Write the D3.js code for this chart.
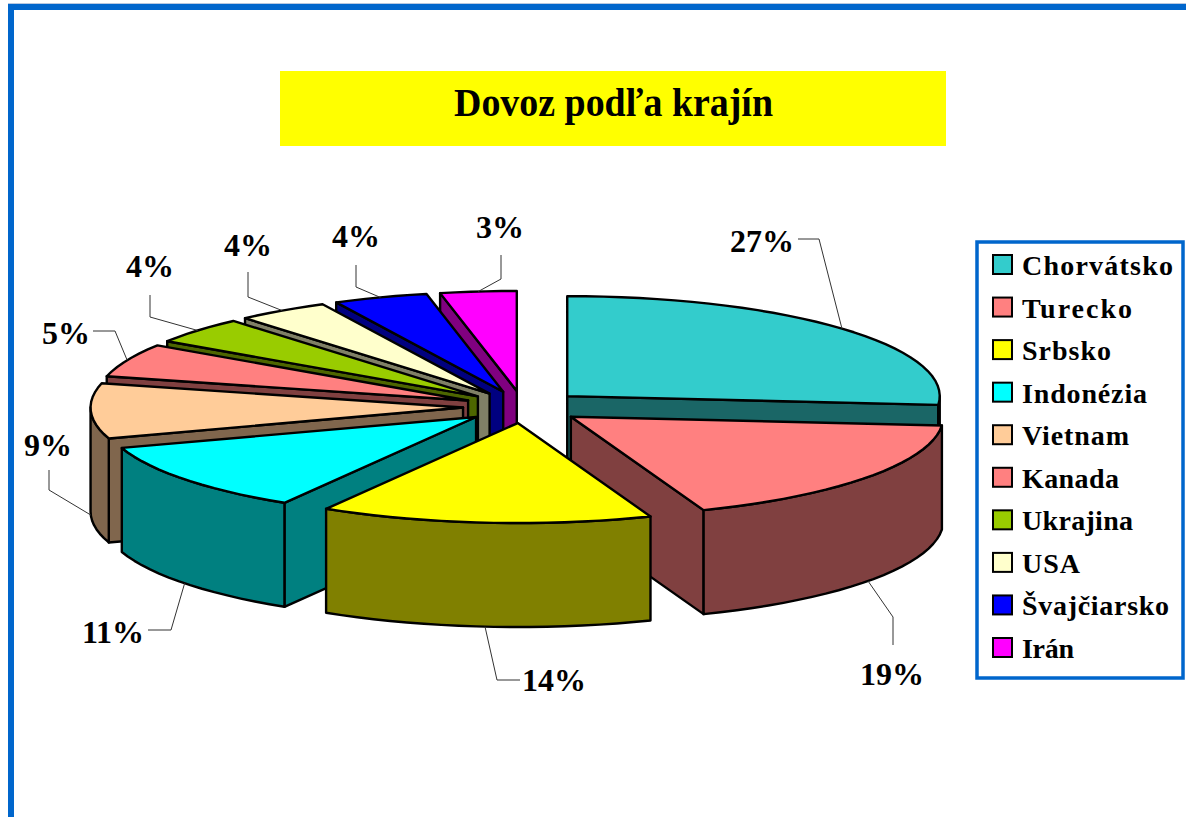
<!DOCTYPE html>
<html lang="sk">
<head>
    <meta charset="UTF-8">
    <title>Dovoz podľa krajín</title>
    <script src="https://cdnjs.cloudflare.com/ajax/libs/d3/7.8.5/d3.min.js"></script>
    <style>
        html, body { margin: 0; padding: 0; background: #fff; overflow: hidden; }
        svg { display: block; }
        text { font-family: "Liberation Serif", "Times New Roman", serif; font-weight: bold; fill: #000; }
    </style>
</head>
<body>
    <div id="chart"></div>
    <script>
        const titleText = 'Dovoz podľa krajín';
        const countries = ['Chorvátsko', 'Turecko', 'Srbsko', 'Indonézia', 'Vietnam', 'Kanada', 'Ukrajina', 'USA', 'Švajčiarsko', 'Irán'];
        // printed percentages
        const percentLabels = ['27%', '19%', '14%', '11%', '9%', '5%', '4%', '4%', '4%', '3%'];
        // wedge sizes as they appear in the picture (perspective squeezes some of them)
        const wedgeShares = [26.4, 17.8, 14.4, 11.4, 8.9, 5.4, 4.3, 4.0, 4.1, 3.3];
        const topColors = ['#33CCCC', '#FF8080', '#FFFF00', '#00FFFF', '#FFCC99', '#FF8080', '#99CC00', '#FFFFCC', '#0000FF', '#FF00FF'];

        const width = 1186, height = 817;
        const pieBox = { cx: 523, cy: 407, rx: 372.5, ry: 100, depth: 104, explode: 0.161 };
        const blue = '#0066CC';

        // label position and leader elbow(s), same order as countries
        const labelLayout = [
            { x: 762, y: 252, elbow: [[819, 239], [798, 239]] },
            { x: 892, y: 685, elbow: [[893, 617], [893, 645]] },
            { x: 554, y: 691, elbow: [[497, 680], [520, 680]] },
            { x: 113, y: 643, elbow: [[171, 630], [148, 630]] },
            { x: 48, y: 456, elbow: [[49, 490], [49, 470]] },
            { x: 66, y: 344, elbow: [[115, 331], [93, 331]] },
            { x: 150, y: 277, elbow: [[150, 317], [150, 295]] },
            { x: 248, y: 256, elbow: [[248, 297], [248, 272]] },
            { x: 356, y: 247, elbow: [[356, 287], [356, 265]] },
            { x: 500, y: 238, elbow: [[501, 279], [501, 255]] }
        ];
        // the legend text is spaced out wider than the font's own width
        const legendTextWidths = [151, 110, 89, 125, 107, 97, 111, 58, 147, 52];

        const svg = d3.select('#chart').append('svg')
            .attr('width', width)
            .attr('height', height);

        // blue page frame, top and left only
        svg.append('rect').attr('x', 8).attr('y', 3).attr('width', width - 8).attr('height', 1).attr('fill', '#B8C8E0');
        svg.append('rect').attr('x', 8).attr('y', 4).attr('width', width - 8).attr('height', 6).attr('fill', blue);
        svg.append('rect').attr('x', 8).attr('y', 4).attr('width', 6).attr('height', height - 4).attr('fill', blue);

        svg.append('rect').attr('x', 280).attr('y', 71).attr('width', 666).attr('height', 75).attr('fill', '#FFFF00');
        svg.append('text')
            .attr('x', 454).attr('y', 116)
            .attr('textLength', 319)
            .attr('lengthAdjust', 'spacingAndGlyphs')
            .style('font-size', '41px')
            .text(titleText);

        // the pie, sized on a unit circle
        const xScale = d3.scaleLinear().domain([-1, 1]).range([pieBox.cx - pieBox.rx, pieBox.cx + pieBox.rx]);
        const yScale = d3.scaleLinear().domain([-1, 1]).range([pieBox.cy - pieBox.ry, pieBox.cy + pieBox.ry]);
        const darken = c => { const k = d3.rgb(c); return d3.rgb(k.r * 0.5, k.g * 0.5, k.b * 0.5).formatHex(); };

        const arcs = d3.pie().sort(null)(wedgeShares).map((a, i) => {
            const mid = (a.startAngle + a.endAngle) / 2;
            return {
                i,
                start: a.startAngle,
                end: a.endAngle,
                mid,
                ox: pieBox.explode * Math.sin(mid),
                oy: -pieBox.explode * Math.cos(mid)
            };
        });

        const point = (d, angle, radius, drop) => [
            xScale(d.ox + radius * Math.sin(angle)),
            yScale(d.oy - radius * Math.cos(angle)) + drop
        ];
        const arcPoints = (d, from, to, drop) => {
            const n = Math.max(2, Math.ceil((to - from) / 0.05));
            return d3.range(n + 1).map(k => point(d, from + (to - from) * k / n, 1, drop));
        };
        const line = d3.line();
        const closed = pts => line(pts) + 'Z';

        // painter's order: back slices first
        const order = arcs.slice().sort((a, b) => Math.cos(b.mid) - Math.cos(a.mid));

        const slices = svg.selectAll('.slice').data(order).enter().append('g').attr('class', 'slice')
            .attr('stroke', '#000')
            .attr('stroke-width', 2.4)
            .attr('stroke-linejoin', 'round');

        slices.each(function(d) {
            const g = d3.select(this);
            const side = darken(topColors[d.i]);
            const depth = pieBox.depth;

            // radial wall facing the viewer
            const wallAngle = Math.sin(d.start) < -1e-6 ? d.start : (Math.sin(d.end) > 1e-6 && d.end <= Math.PI ? d.end : null);
            if (wallAngle !== null) {
                const a = point(d, 0, 0, 0), b = point(d, wallAngle, 1, 0);
                g.append('path').attr('fill', side)
                    .attr('d', closed([a, b, [b[0], b[1] + depth], [a[0], a[1] + depth]]));
            }

            // outer wall, only the front half shows
            const from = Math.max(d.start, Math.PI / 2), to = Math.min(d.end, Math.PI * 1.5);
            if (to > from) {
                const upper = arcPoints(d, from, to, 0);
                const lower = arcPoints(d, from, to, depth).reverse();
                g.append('path').attr('fill', side).attr('d', closed(upper.concat(lower)));
            }

            // top face
            g.append('path').attr('fill', topColors[d.i])
                .attr('d', closed([point(d, 0, 0, 0)].concat(arcPoints(d, d.start, d.end, 0))));
        });

        // leader lines start on the slice rim (bottom rim for the front slices)
        svg.selectAll('.leader').data(arcs).enter().append('path')
            .attr('class', 'leader')
            .attr('fill', 'none')
            .attr('stroke', '#333')
            .attr('stroke-width', 1)
            .attr('d', d => {
                const front = Math.cos(d.mid) < 0;
                return line([point(d, d.mid, 1, front ? pieBox.depth : 0)].concat(labelLayout[d.i].elbow));
            });

        svg.selectAll('.pct').data(arcs).enter().append('text')
            .attr('class', 'pct')
            .attr('x', d => labelLayout[d.i].x)
            .attr('y', d => labelLayout[d.i].y)
            .attr('text-anchor', 'middle')
            .style('font-size', '32px')
            .text(d => percentLabels[d.i]);

        // legend
        svg.append('rect').attr('x', 977).attr('y', 242).attr('width', 206).attr('height', 436)
            .attr('fill', '#fff').attr('stroke', blue).attr('stroke-width', 3.5);

        const legendY = d3.scalePoint().domain(countries).range([265, 648]);
        const legendRows = svg.selectAll('.legend-row').data(countries).enter().append('g')
            .attr('class', 'legend-row')
            .attr('transform', d => `translate(0,${legendY(d)})`);
        legendRows.append('rect')
            .attr('x', 993).attr('y', -10).attr('width', 19).attr('height', 19)
            .attr('stroke', '#000').attr('stroke-width', 2)
            .attr('fill', (d, i) => topColors[i]);
        legendRows.append('text')
            .attr('x', 1022).attr('y', 10)
            .attr('textLength', (d, i) => legendTextWidths[i])
            .attr('lengthAdjust', 'spacing')
            .style('font-size', '28px')
            .text(d => d);
    </script>
</body>
</html>
